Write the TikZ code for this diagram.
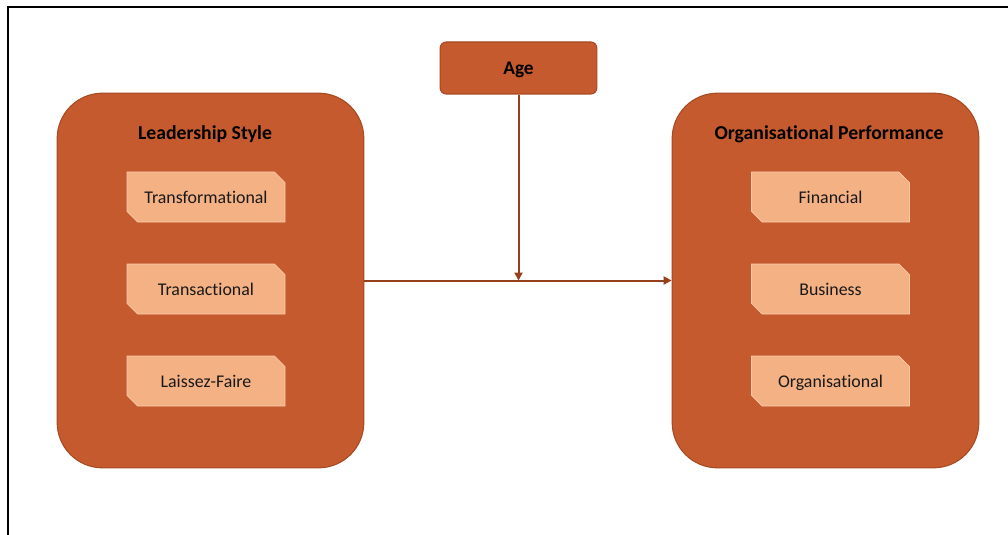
\documentclass[tikz,border=0pt]{standalone}
\usepackage{fontspec}
\setmainfont{Carlito}[RawFeature=-liga]
\usetikzlibrary{shapes.misc,arrows.meta}
\definecolor{boxfill}{HTML}{C55A2E}
\definecolor{boxline}{HTML}{A64A22}
\definecolor{itemfill}{HTML}{F4B183}
\definecolor{itemline}{HTML}{F8CBAD}
\definecolor{arrowc}{HTML}{953F1D}
\tikzset{
  bigbox/.style={draw=boxline, line width=0.8pt, fill=boxfill, rounded corners=34pt,
    minimum width=230pt, minimum height=281pt, inner sep=0pt},
  agebox/.style={draw=boxline, line width=0.8pt, fill=boxfill, rounded corners=4.5pt,
    minimum width=117.5pt, minimum height=39pt, inner sep=0pt, text height=11pt, text depth=1pt,
    font=\bfseries\fontsize{14.5}{16}\selectfont},
  item/.style={chamfered rectangle, chamfered rectangle corners={north east,south west},
    chamfered rectangle xsep=4pt, chamfered rectangle ysep=4pt,
    draw=itemline, line width=0.6pt, fill=itemfill, text=black!90,
    text height=11pt, text depth=1.5pt,
    minimum width=118.5pt, minimum height=37.5pt, inner sep=0pt, font=\fontsize{13.4}{15}\selectfont},
  title/.style={font=\bfseries\fontsize{14.8}{16}\selectfont, inner sep=0pt, text height=9.5pt, text depth=2.5pt},
  conn/.style={draw=arrowc, line width=1.5pt, -{Triangle[length=6pt,width=6pt]}}
}
\begin{document}
\begin{tikzpicture}[x=0.75pt,y=-0.75pt]
\useasboundingbox (0,0) rectangle (1008,535);
\draw[line width=1.5pt, line cap=rect] (8,536) -- (8,7) -- (1009,7);
\node[bigbox] (ls) at (210.5,280.5) {};
\node[bigbox] (op) at (825.5,280.5) {};
\node[agebox] (age) at (518.5,68) {Age};
\node[title] (lst) at (205,135) {Leadership Style};
\node[title] (opt) at (829,135) {Organisational Performance};
\node[item] (t1) at (206,197) {Transformational};
\node[item] (t2) at (206,289) {Transactional};
\node[item] (t3) at (206,381) {Laissez-Faire};
\node[item] (o1) at (830.5,197) {Financial};
\node[item] (o2) at (830.5,289) {Business};
\node[item] (o3) at (830.5,381) {Organisational};
\coordinate (j) at (age.south |- ls.east);
\draw[conn] (ls.east) -- (op.west);
\draw[conn] (age.south) -- (j);
\end{tikzpicture}
\end{document}
